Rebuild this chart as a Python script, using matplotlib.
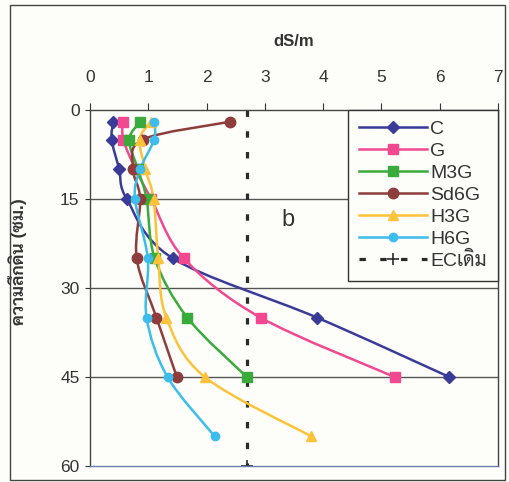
import matplotlib
matplotlib.use('Agg')
import matplotlib.pyplot as plt
from matplotlib.patches import Rectangle, PathPatch
from matplotlib.path import Path
from matplotlib.lines import Line2D

# depth (cm) and EC (dS/m)
depth = [2, 5, 10, 15, 25, 35, 45]
depth_long = [2, 5, 10, 15, 25, 35, 45, 55]

ec_C = [0.40, 0.37, 0.50, 0.63, 1.42, 3.90, 6.17]
ec_G = [0.56, 0.57, 0.78, 1.05, 1.61, 2.93, 5.23]
ec_M3G = [0.86, 0.67, 0.82, 0.97, 1.11, 1.67, 2.69]
ec_Sd6G = [2.40, 0.90, 0.74, 0.86, 0.80, 1.14, 1.49]
ec_H3G = [1.04, 0.85, 0.95, 1.09, 1.17, 1.31, 1.97, 3.80]
ec_H6G = [1.10, 1.10, 0.86, 0.77, 0.99, 0.97, 1.33, 2.14]

ec_orig = 2.69
ec_orig_depth = [0, 60]

series = [
    ('C', ec_C, depth, '#3a3a98', 'D', 6),
    ('G', ec_G, depth, '#f2488f', 's', 7),
    ('M3G', ec_M3G, depth, '#3aaa3a', 's', 6.5),
    ('Sd6G', ec_Sd6G, depth, '#8e3c3c', 'o', 7.5),
    ('H3G', ec_H3G, depth_long, '#fcc23a', '^', 7.5),
    ('H6G', ec_H6G, depth_long, '#3cbdec', 'o', 6),
]


def smooth_path(xs, ys, t=1 / 6):
    # excel-like smoothed line: cubic bezier through every point
    pts = list(zip(xs, ys))
    n = len(pts)
    verts = [pts[0]]
    codes = [Path.MOVETO]
    for i in range(n - 1):
        p0 = pts[i - 1] if i > 0 else pts[i]
        p1 = pts[i]
        p2 = pts[i + 1]
        p3 = pts[i + 2] if i + 2 < n else pts[i + 1]
        c1 = (p1[0] + (p2[0] - p0[0]) * t, p1[1] + (p2[1] - p0[1]) * t)
        c2 = (p2[0] - (p3[0] - p1[0]) * t, p2[1] - (p3[1] - p1[1]) * t)
        verts += [c1, c2, p2]
        codes += [Path.CURVE4] * 3
    return Path(verts, codes)


thai = ['Liberation Sans', 'Sarabun', 'Noto Sans Thai Looped', 'Tahoma', 'Loma',
        'Garuda', 'IBM Plex Sans Thai', 'Anuphan', 'DejaVu Sans']
plt.rcParams['font.family'] = thai

fig = plt.figure(figsize=(5.09, 4.82), dpi=100)
fig.patch.set_facecolor('#fdfdf9')
ax = fig.add_axes([0.177, 0.033, 0.801, 0.739])
ax.set_facecolor('#fdfdf9')

handles = []
for name, vals, d, col, mk, ms in series:
    ax.add_patch(PathPatch(smooth_path(vals, d), facecolor='none', edgecolor=col,
                           linewidth=1.8, zorder=3))
    ax.plot(vals, d, color=col, marker=mk, markersize=ms, linestyle='none', zorder=4)
    handles.append(Line2D([], [], color=col, marker=mk, markersize=ms,
                          linewidth=1.8, label=name))

ec_line, = ax.plot([ec_orig, ec_orig], ec_orig_depth, color='#2a2a2a', linewidth=2.3,
                   dashes=(2, 4.5), marker='+', markersize=9, markeredgewidth=1.2,
                   label='ECเดิม', zorder=2)
handles.append(ec_line)

ax.set_xlim(0, 7)
ax.set_ylim(60, 0)
ax.set_xticks(range(8))
ax.set_yticks([0, 15, 30, 45, 60])
ax.xaxis.tick_top()
ax.xaxis.set_label_position('top')
ax.tick_params(axis='x', direction='out', length=5, pad=13, labelsize=12.5,
               colors='#333333')
ax.tick_params(axis='y', direction='out', length=3.6, pad=4, labelsize=12.5,
               colors='#333333')
for y in [15, 30, 45]:
    ax.axhline(y, color='#555555', linewidth=1.0, zorder=1)
for s in ax.spines.values():
    s.set_color('#444444')
    s.set_linewidth(1.0)
ax.spines['bottom'].set_color('#6a7fb0')

ax.set_xlabel('dS/m', fontsize=12, fontweight='bold', labelpad=17, color='#333333')
ax.set_ylabel('ความลึกดิน (ซม.)', fontsize=12.5, fontweight='bold', color='#333333')
ax.yaxis.set_label_coords(-0.155, 0.575)

ax.text(3.4, 18.5, 'b', fontsize=17, color='#333333', ha='center', va='center')

leg = ax.legend(handles=handles, loc='upper right', bbox_to_anchor=(1.0, 1.0),
                borderaxespad=0, fontsize=14, frameon=True, fancybox=False,
                handlelength=3.5, handletextpad=0.2, labelspacing=0.22,
                borderpad=0.55)
leg.get_frame().set_edgecolor('#333333')
leg.get_frame().set_linewidth(1.0)
leg.get_frame().set_facecolor('#fdfdf9')
leg.get_frame().set_alpha(1)
for t in leg.get_texts():
    t.set_color('#333333')

# outer frame around the whole picture
fig.patches.append(Rectangle((0.02, 0.005), 0.972, 0.985, transform=fig.transFigure,
                             fill=False, edgecolor='#444444', linewidth=1.0))

fig.savefig('out.png', dpi=100, facecolor=fig.get_facecolor())
